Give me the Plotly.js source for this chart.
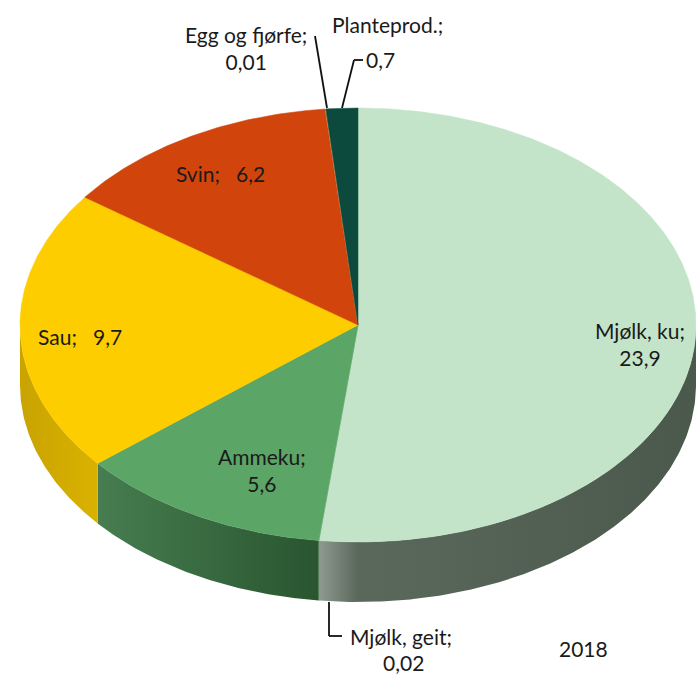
<!DOCTYPE html>
<html>
<head>
<meta charset="utf-8">
<script src="https://cdn.plot.ly/plotly-3.0.1.min.js"></script>
<style>html,body{margin:0;padding:0;background:#fff;}#chart{width:696px;height:676px;}</style>
</head>
<body>
<div id="chart"></div>
<script>
// ---- data ----
const categories = ['Mjølk, ku', 'Mjølk, geit', 'Ammeku', 'Sau', 'Svin', 'Egg og fjørfe', 'Planteprod.'];
const values = [23.9, 0.02, 5.6, 9.7, 6.2, 0.01, 0.7];
const topColors = ['#c3e4c9', '#8fbf95', '#5ba566', '#fdcd00', '#d1450d', '#e0a070', '#0c4a3d'];
const sideStart = ['#8e9a8f', '#5d8f62', '#477d50', '#c9a300', '#9a3208', '#a07050', '#07332a'];
const sideEnd = ['#4b594c', '#4a7a50', '#29552f', '#d9b200', '#9a3208', '#a07050', '#07332a'];
const yearLabel = '2018';

// ---- geometry (layout of the 3D pie) ----
const cx = 358, cy = 325, ra = 338, rb = 217, depth = 60;
const total = values.reduce((s, v) => s + v, 0);
const fmt = v => String(v).replace('.', ',');

function pt(tDeg, dy) {
  const t = tDeg * Math.PI / 180;
  return [cx + ra * Math.sin(t), cy - rb * Math.cos(t) + (dy || 0)];
}
function arc(t0, t1, dy) {
  const pts = [];
  const n = Math.max(2, Math.ceil((t1 - t0) / 0.5));
  for (let i = 0; i <= n; i++) pts.push(pt(t0 + (t1 - t0) * i / n, dy));
  return pts;
}

const traces = [];
const angles = [];
let acc = 0;
values.forEach((v, i) => {
  const t0 = acc / total * 360;
  acc += v;
  const t1 = acc / total * 360;
  angles.push([t0, t1]);
});

// side walls (front half only: 90..270 deg)
values.forEach((v, i) => {
  const [t0, t1] = angles[i];
  const s0 = Math.max(t0, 90), s1 = Math.min(t1, 270);
  if (s1 <= s0) return;
  const top = arc(s0, s1, 0);
  const bot = arc(s0, s1, depth).reverse();
  const all = top.concat(bot);
  all.push(top[0]);
  const xs = all.map(p => p[0]), ys = all.map(p => p[1]);
  const xmin = Math.min(...xs), xmax = Math.max(...xs);
  let cs;
  if (i === 0) cs = [[0, sideStart[i]], [0.1, '#5b685c'], [1, sideEnd[i]]];
  else cs = [[0, sideStart[i]], [1, sideEnd[i]]];
  traces.push({
    type: 'scatter', mode: 'lines', x: xs, y: ys, fill: 'toself',
    fillcolor: sideEnd[i], line: {width: 0}, hoverinfo: 'skip', showlegend: false,
    fillgradient: {type: 'horizontal', colorscale: cs, start: xmin, stop: xmax}
  });
});

// top faces
values.forEach((v, i) => {
  const [t0, t1] = angles[i];
  const all = [[cx, cy]].concat(arc(t0, t1, 0));
  all.push([cx, cy]);
  traces.push({
    type: 'scatter', mode: 'lines', x: all.map(p => p[0]), y: all.map(p => p[1]),
    fill: 'toself', fillcolor: topColors[i], line: {width: 0.5, color: topColors[i]},
    hoverinfo: 'skip', showlegend: false, name: categories[i]
  });
});

const font = {family: 'Lato, "Open Sans", sans-serif', size: 21, color: '#1a1a1a'};
const sp = '\u00a0\u00a0\u00a0';
function ann(x, y, text, xanchor) {
  return {x: x, y: y, xref: 'x', yref: 'y', text: text, showarrow: false, font: font,
          xanchor: xanchor || 'center', yanchor: 'middle', align: 'center'};
}
const annotations = [
  ann(640, 344, categories[0] + ';<br>' + fmt(values[0])),
  ann(220, 173, categories[4] + ';' + sp + fmt(values[4])),
  ann(80, 336, categories[3] + ';' + sp + fmt(values[3])),
  ann(262, 470, categories[2] + ';<br>' + fmt(values[2])),
  ann(246, 48, categories[5] + ';<br>' + fmt(values[5])),
  ann(387, 24, categories[6] + ';', 'center'),
  ann(364, 59, fmt(values[6]), 'left'),
  ann(348, 636, categories[1] + ';', 'left'),
  ann(403, 662, fmt(values[1])),
  ann(583, 648, yearLabel)
];

const lineStyle = {color: '#111', width: 1.8};
const shapes = [
  {type: 'line', xref: 'x', yref: 'y', x0: 315, y0: 36, x1: 327, y1: 108, line: lineStyle},
  {type: 'line', xref: 'x', yref: 'y', x0: 342, y0: 108, x1: 354, y1: 60, line: lineStyle},
  {type: 'line', xref: 'x', yref: 'y', x0: 354, y0: 60, x1: 363, y1: 60, line: lineStyle},
  {type: 'line', xref: 'x', yref: 'y', x0: 329, y0: 602, x1: 329, y1: 636, line: lineStyle},
  {type: 'line', xref: 'x', yref: 'y', x0: 329, y0: 636, x1: 342, y1: 636, line: lineStyle}
];

const layout = {
  width: 696, height: 676,
  margin: {l: 0, r: 0, t: 0, b: 0},
  paper_bgcolor: '#ffffff', plot_bgcolor: '#ffffff',
  xaxis: {range: [0, 696], visible: false, fixedrange: true},
  yaxis: {range: [676, 0], visible: false, fixedrange: true},
  showlegend: false,
  annotations: annotations,
  shapes: shapes
};
Plotly.newPlot('chart', traces, layout, {staticPlot: true, displayModeBar: false});
</script>
</body>
</html>
